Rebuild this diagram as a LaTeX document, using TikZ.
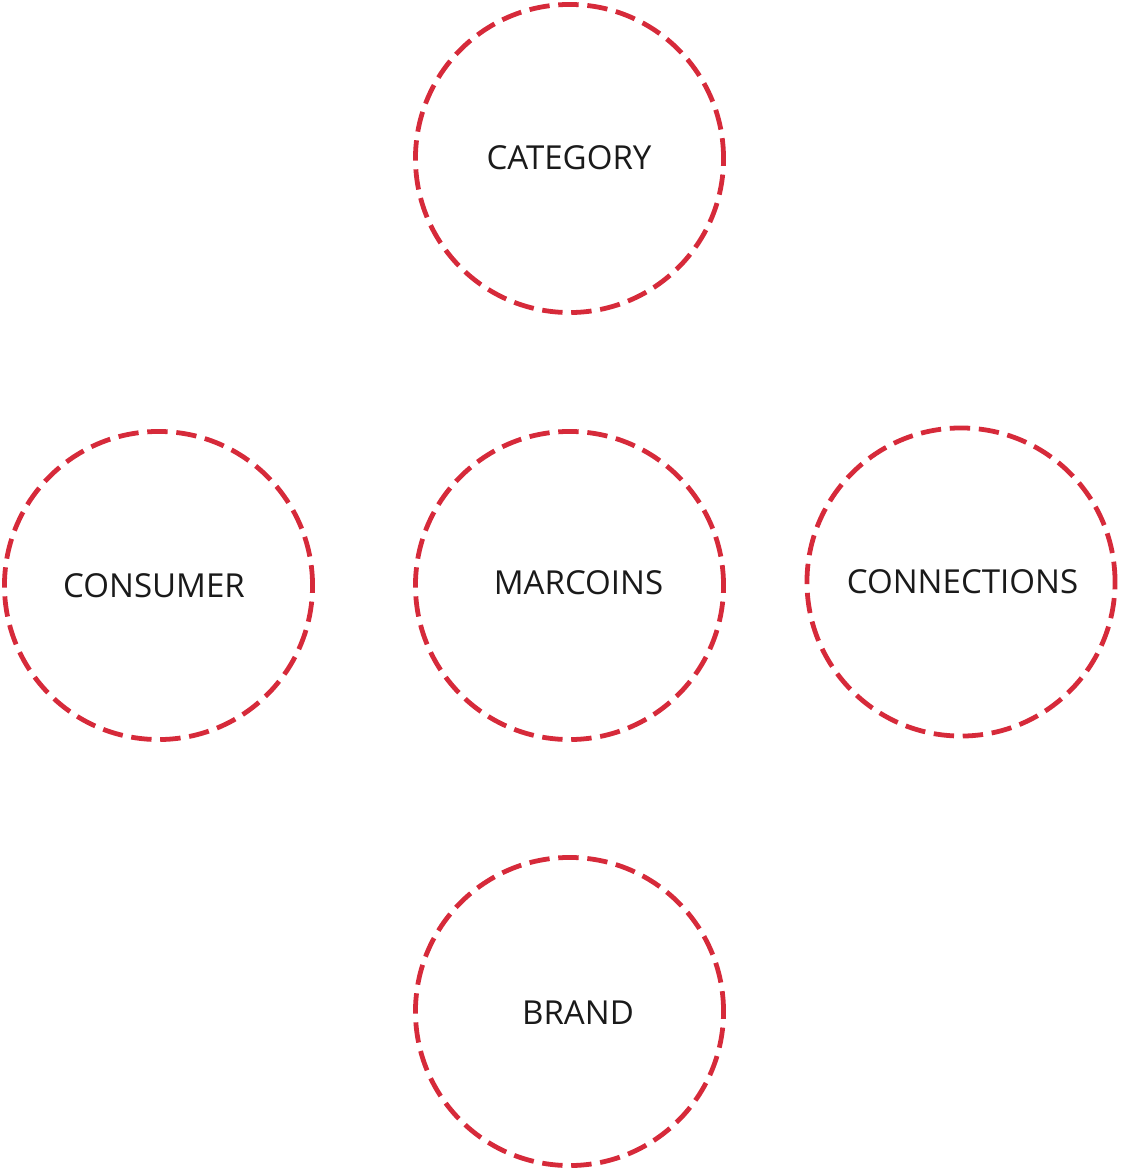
\documentclass[tikz,border=0pt]{standalone}
\usepackage{fontspec}
\setmainfont{Open Sans}
\usetikzlibrary{positioning}

\definecolor{ringred}{RGB}{214,42,58}
\definecolor{labelgray}{RGB}{26,26,26}

\begin{document}
\begin{tikzpicture}[x=0.025cm, y=-0.025cm,
    ring/.style={draw=ringred, circle, line width=3.4pt,
        dash pattern=on 14.5pt off 6.2pt, minimum size=7.7cm, inner sep=0pt},
    word/.style={text=labelgray, font=\fontsize{23.5}{28}\selectfont, inner sep=0pt}]
    % 1. A kép határai (1120 x 1170 px)
    \useasboundingbox (0,0) rectangle (1120,1170);

    % 2. A körök elhelyezése
    \node[ring] (r-category) at (569.5,158.5) {};
    \node[ring] (r-consumer) at (158.5,585.5) {};
    \node[ring] (r-marcoins) at (569.5,585.5) {};
    \node[ring] (r-connections) at (961,582) {};
    \node[ring] (r-brand) at (569.5,1011.5) {};

    % 3. Feliratok a körökben
    \node[word] (t-category) at (569,158) {CATEGORY};
    \node[word] (t-consumer) at (154,586) {CONSUMER};
    \node[word] (t-marcoins) at (578.5,583) {MARCOINS};
    \node[word] (t-connections) at (962.5,582) {CONNECTIONS};
    \node[word] (t-brand) at (578,1013) {BRAND};
\end{tikzpicture}
\end{document}
